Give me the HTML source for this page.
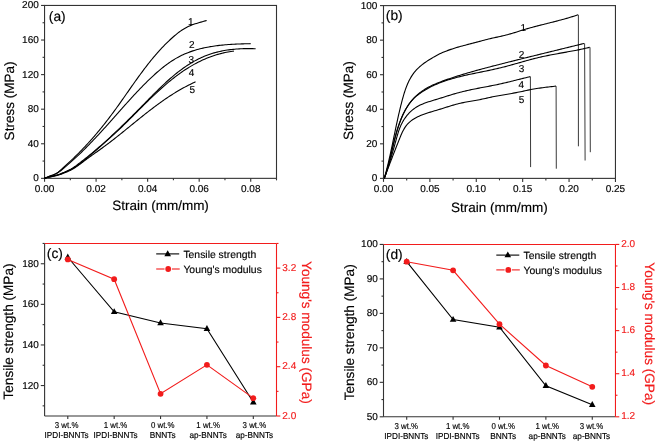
<!DOCTYPE html>
<html><head><meta charset="utf-8"><title>Mechanical properties</title>
<style>
html,body{margin:0;padding:0;background:#fff;}
body{width:656px;height:442px;overflow:hidden;}
svg{display:block;font-family:"Liberation Sans", sans-serif;will-change:transform;}
text{font-family:"Liberation Sans", sans-serif;text-rendering:geometricPrecision;}
</style></head>
<body>
<svg width="656" height="442" viewBox="0 0 656 442">
<rect width="656" height="442" fill="#fff"/>
<rect x="44.55" y="5.45" width="231.95" height="172.9" fill="none" stroke="#333" stroke-width="1.1"/>
<line x1="44.55" y1="178.35" x2="44.55" y2="181.85" stroke="#333" stroke-width="1.1"/>
<text x="44.55" y="191.8" font-size="10" text-anchor="middle" fill="#000" stroke="#000" stroke-width="0.15">0.00</text>
<line x1="96.09" y1="178.35" x2="96.09" y2="181.85" stroke="#333" stroke-width="1.1"/>
<text x="96.09" y="191.8" font-size="10" text-anchor="middle" fill="#000" stroke="#000" stroke-width="0.15">0.02</text>
<line x1="147.64" y1="178.35" x2="147.64" y2="181.85" stroke="#333" stroke-width="1.1"/>
<text x="147.64" y="191.8" font-size="10" text-anchor="middle" fill="#000" stroke="#000" stroke-width="0.15">0.04</text>
<line x1="199.18" y1="178.35" x2="199.18" y2="181.85" stroke="#333" stroke-width="1.1"/>
<text x="199.18" y="191.8" font-size="10" text-anchor="middle" fill="#000" stroke="#000" stroke-width="0.15">0.06</text>
<line x1="250.73" y1="178.35" x2="250.73" y2="181.85" stroke="#333" stroke-width="1.1"/>
<text x="250.73" y="191.8" font-size="10" text-anchor="middle" fill="#000" stroke="#000" stroke-width="0.15">0.08</text>
<line x1="70.32" y1="178.35" x2="70.32" y2="180.35" stroke="#333" stroke-width="1.1"/>
<line x1="121.87" y1="178.35" x2="121.87" y2="180.35" stroke="#333" stroke-width="1.1"/>
<line x1="173.41" y1="178.35" x2="173.41" y2="180.35" stroke="#333" stroke-width="1.1"/>
<line x1="224.96" y1="178.35" x2="224.96" y2="180.35" stroke="#333" stroke-width="1.1"/>
<line x1="276.5" y1="178.35" x2="276.5" y2="180.35" stroke="#333" stroke-width="1.1"/>
<line x1="44.55" y1="178.35" x2="41.05" y2="178.35" stroke="#333" stroke-width="1.1"/>
<text x="38.8" y="181.35" font-size="10" text-anchor="end" fill="#000" stroke="#000" stroke-width="0.15">0</text>
<line x1="44.55" y1="143.77" x2="41.05" y2="143.77" stroke="#333" stroke-width="1.1"/>
<text x="38.8" y="146.77" font-size="10" text-anchor="end" fill="#000" stroke="#000" stroke-width="0.15">40</text>
<line x1="44.55" y1="109.19" x2="41.05" y2="109.19" stroke="#333" stroke-width="1.1"/>
<text x="38.8" y="112.19" font-size="10" text-anchor="end" fill="#000" stroke="#000" stroke-width="0.15">80</text>
<line x1="44.55" y1="74.61" x2="41.05" y2="74.61" stroke="#333" stroke-width="1.1"/>
<text x="38.8" y="77.61" font-size="10" text-anchor="end" fill="#000" stroke="#000" stroke-width="0.15">120</text>
<line x1="44.55" y1="40.03" x2="41.05" y2="40.03" stroke="#333" stroke-width="1.1"/>
<text x="38.8" y="43.03" font-size="10" text-anchor="end" fill="#000" stroke="#000" stroke-width="0.15">160</text>
<line x1="44.55" y1="5.45" x2="41.05" y2="5.45" stroke="#333" stroke-width="1.1"/>
<text x="38.8" y="8.45" font-size="10" text-anchor="end" fill="#000" stroke="#000" stroke-width="0.15">200</text>
<line x1="44.55" y1="161.06" x2="42.55" y2="161.06" stroke="#333" stroke-width="1.1"/>
<line x1="44.55" y1="126.48" x2="42.55" y2="126.48" stroke="#333" stroke-width="1.1"/>
<line x1="44.55" y1="91.9" x2="42.55" y2="91.9" stroke="#333" stroke-width="1.1"/>
<line x1="44.55" y1="57.32" x2="42.55" y2="57.32" stroke="#333" stroke-width="1.1"/>
<line x1="44.55" y1="22.74" x2="42.55" y2="22.74" stroke="#333" stroke-width="1.1"/>
<text x="48.8" y="20.8" font-size="13.8" text-anchor="start" fill="#000" stroke="#000" stroke-width="0.15">(a)</text>
<text x="0" y="0" font-size="13.5" text-anchor="middle" fill="#000" stroke="#000" stroke-width="0.15" transform="translate(14.2,101) rotate(-90)">Stress (MPa)</text>
<text x="160.5" y="209.5" font-size="13.5" text-anchor="middle" fill="#000" stroke="#000" stroke-width="0.15">Strain (mm/mm)</text>
<path d="M44.50,178.29 L45.88,177.72 L47.28,177.18 L48.68,176.65 L50.09,176.12 L51.48,175.58 L52.87,175.00 L54.23,174.38 L55.57,173.70 L56.86,172.95 L58.11,172.12 L59.31,171.21 L60.46,170.26 L61.59,169.27 L62.69,168.26 L63.79,167.24 L64.89,166.21 L65.99,165.20 L67.09,164.18 L68.19,163.17 L69.29,162.15 L70.39,161.13 L71.49,160.11 L72.58,159.08 L73.66,158.04 L74.74,157.00 L75.81,155.96 L76.88,154.91 L77.95,153.85 L79.00,152.79 L80.06,151.72 L81.10,150.65 L82.14,149.57 L83.18,148.49 L84.21,147.40 L85.24,146.31 L86.26,145.21 L87.28,144.11 L88.29,143.00 L89.29,141.89 L90.29,140.77 L91.29,139.65 L92.28,138.53 L93.27,137.40 L94.25,136.27 L95.23,135.13 L96.20,133.99 L97.17,132.85 L98.13,131.70 L99.09,130.54 L100.04,129.39 L100.99,128.23 L101.93,127.06 L102.87,125.89 L103.81,124.72 L104.74,123.55 L105.67,122.37 L106.59,121.19 L107.51,120.00 L108.42,118.82 L109.33,117.63 L110.24,116.43 L111.14,115.23 L112.04,114.03 L112.93,112.83 L113.82,111.62 L114.71,110.42 L115.59,109.20 L116.47,107.99 L117.34,106.77 L118.22,105.56 L119.09,104.34 L119.96,103.11 L120.82,101.89 L121.69,100.67 L122.55,99.44 L123.41,98.21 L124.27,96.99 L125.13,95.76 L125.99,94.53 L126.85,93.30 L127.71,92.07 L128.57,90.85 L129.43,89.62 L130.29,88.39 L131.15,87.16 L132.01,85.94 L132.87,84.71 L133.74,83.49 L134.60,82.26 L135.47,81.04 L136.34,79.82 L137.22,78.60 L138.09,77.39 L138.97,76.17 L139.86,74.96 L140.74,73.75 L141.63,72.55 L142.53,71.34 L143.43,70.14 L144.33,68.95 L145.24,67.76 L146.15,66.57 L147.07,65.38 L147.99,64.20 L148.92,63.02 L149.85,61.85 L150.79,60.68 L151.74,59.52 L152.69,58.37 L153.65,57.22 L154.62,56.07 L155.60,54.93 L156.58,53.80 L157.57,52.67 L158.56,51.55 L159.57,50.44 L160.58,49.33 L161.60,48.24 L162.63,47.15 L163.67,46.06 L164.71,44.99 L165.77,43.93 L166.83,42.87 L167.90,41.82 L168.98,40.79 L170.08,39.76 L171.18,38.74 L172.29,37.73 L173.41,36.74 L174.55,35.76 L175.70,34.80 L176.86,33.86 L178.04,32.94 L179.24,32.04 L180.46,31.17 L181.70,30.32 L182.96,29.50 L184.23,28.72 L185.53,27.97 L186.85,27.26 L188.19,26.59 L189.55,25.96 L190.93,25.38 L192.33,24.83 L193.74,24.33 L195.16,23.85 L196.59,23.40 L198.03,22.97 L199.47,22.55 L200.91,22.13 L202.35,21.72 L203.78,21.29 L205.22,20.86 L206.65,20.40" fill="none" stroke="#000" stroke-width="1.1" stroke-linejoin="round"/>
<path d="M44.50,178.31 L45.88,177.70 L47.27,177.14 L48.67,176.61 L50.07,176.09 L51.48,175.57 L52.88,175.05 L54.28,174.49 L55.65,173.89 L56.98,173.21 L58.27,172.44 L59.51,171.60 L60.72,170.71 L61.89,169.78 L63.04,168.82 L64.19,167.85 L65.33,166.88 L66.46,165.90 L67.60,164.92 L68.73,163.94 L69.86,162.95 L70.98,161.96 L72.10,160.96 L73.21,159.96 L74.32,158.95 L75.43,157.93 L76.52,156.91 L77.62,155.89 L78.71,154.86 L79.79,153.82 L80.87,152.78 L81.94,151.74 L83.02,150.69 L84.08,149.63 L85.14,148.58 L86.20,147.51 L87.26,146.45 L88.31,145.38 L89.35,144.31 L90.40,143.23 L91.44,142.15 L92.47,141.07 L93.51,139.98 L94.54,138.89 L95.56,137.80 L96.59,136.71 L97.61,135.61 L98.63,134.51 L99.65,133.41 L100.66,132.31 L101.67,131.20 L102.68,130.09 L103.69,128.98 L104.70,127.87 L105.70,126.76 L106.71,125.65 L107.71,124.53 L108.71,123.41 L109.71,122.30 L110.70,121.18 L111.70,120.06 L112.70,118.94 L113.69,117.82 L114.69,116.70 L115.68,115.58 L116.68,114.45 L117.67,113.33 L118.67,112.21 L119.66,111.09 L120.65,109.97 L121.65,108.85 L122.65,107.73 L123.64,106.61 L124.64,105.49 L125.64,104.37 L126.64,103.25 L127.64,102.14 L128.65,101.03 L129.65,99.92 L130.66,98.81 L131.67,97.70 L132.69,96.60 L133.70,95.49 L134.72,94.39 L135.74,93.30 L136.77,92.21 L137.80,91.12 L138.83,90.03 L139.87,88.95 L140.91,87.87 L141.95,86.79 L143.00,85.72 L144.06,84.66 L145.11,83.59 L146.18,82.54 L147.24,81.48 L148.32,80.44 L149.40,79.40 L150.48,78.36 L151.57,77.33 L152.66,76.30 L153.76,75.29 L154.87,74.28 L155.99,73.28 L157.11,72.28 L158.24,71.30 L159.38,70.33 L160.53,69.36 L161.69,68.41 L162.85,67.47 L164.03,66.54 L165.22,65.63 L166.42,64.73 L167.63,63.84 L168.85,62.97 L170.08,62.12 L171.32,61.28 L172.58,60.47 L173.85,59.67 L175.13,58.89 L176.43,58.13 L177.73,57.40 L179.05,56.69 L180.38,56.00 L181.73,55.34 L183.08,54.70 L184.45,54.09 L185.83,53.50 L187.22,52.93 L188.61,52.39 L190.02,51.87 L191.43,51.37 L192.85,50.89 L194.28,50.43 L195.72,50.00 L197.16,49.58 L198.60,49.19 L200.05,48.81 L201.51,48.45 L202.97,48.11 L204.43,47.79 L205.90,47.48 L207.37,47.19 L208.85,46.92 L210.32,46.66 L211.80,46.42 L213.28,46.19 L214.77,45.97 L216.25,45.77 L217.74,45.58 L219.23,45.40 L220.72,45.24 L222.21,45.08 L223.70,44.94 L225.19,44.81 L226.69,44.68 L228.18,44.57 L229.68,44.46 L231.17,44.37 L232.67,44.28 L234.16,44.20 L235.66,44.12 L237.16,44.05 L238.66,43.99 L240.16,43.94 L241.65,43.89 L243.15,43.84 L244.65,43.80 L246.15,43.76 L247.65,43.73 L249.15,43.70 L250.64,43.67" fill="none" stroke="#000" stroke-width="1.1" stroke-linejoin="round"/>
<path d="M44.50,178.30 L45.91,177.80 L47.34,177.37 L48.79,176.99 L50.24,176.64 L51.70,176.31 L53.16,175.99 L54.62,175.65 L56.07,175.29 L57.51,174.88 L58.93,174.41 L60.34,173.90 L61.73,173.34 L63.10,172.76 L64.48,172.16 L65.85,171.56 L67.21,170.94 L68.56,170.29 L69.89,169.61 L71.20,168.89 L72.48,168.11 L73.73,167.30 L74.96,166.45 L76.18,165.58 L77.38,164.68 L78.58,163.78 L79.77,162.88 L80.95,161.97 L82.14,161.05 L83.32,160.13 L84.49,159.21 L85.66,158.28 L86.83,157.34 L88.00,156.40 L89.16,155.46 L90.32,154.51 L91.47,153.56 L92.62,152.60 L93.77,151.64 L94.91,150.68 L96.05,149.71 L97.19,148.74 L98.32,147.76 L99.45,146.78 L100.58,145.80 L101.70,144.81 L102.83,143.82 L103.94,142.83 L105.06,141.83 L106.17,140.83 L107.28,139.82 L108.39,138.82 L109.49,137.81 L110.59,136.79 L111.69,135.78 L112.78,134.76 L113.88,133.73 L114.97,132.71 L116.05,131.68 L117.14,130.65 L118.22,129.62 L119.30,128.59 L120.38,127.55 L121.46,126.51 L122.53,125.47 L123.61,124.43 L124.68,123.38 L125.75,122.34 L126.81,121.29 L127.88,120.24 L128.94,119.19 L130.01,118.13 L131.07,117.08 L132.13,116.02 L133.18,114.96 L134.24,113.90 L135.30,112.84 L136.35,111.78 L137.40,110.72 L138.46,109.66 L139.51,108.59 L140.56,107.53 L141.61,106.46 L142.66,105.40 L143.71,104.33 L144.75,103.26 L145.80,102.19 L146.85,101.12 L147.90,100.06 L148.95,98.99 L150.00,97.92 L151.05,96.86 L152.10,95.80 L153.15,94.73 L154.21,93.68 L155.27,92.62 L156.33,91.57 L157.40,90.52 L158.47,89.47 L159.54,88.42 L160.62,87.39 L161.70,86.35 L162.78,85.32 L163.87,84.30 L164.97,83.28 L166.07,82.26 L167.17,81.26 L168.29,80.26 L169.41,79.27 L170.53,78.28 L171.66,77.30 L172.80,76.33 L173.95,75.37 L175.11,74.42 L176.27,73.48 L177.44,72.55 L178.62,71.63 L179.81,70.72 L181.01,69.82 L182.21,68.94 L183.43,68.07 L184.65,67.21 L185.89,66.36 L187.13,65.53 L188.39,64.72 L189.65,63.92 L190.93,63.14 L192.21,62.37 L193.51,61.62 L194.81,60.89 L196.13,60.18 L197.46,59.49 L198.79,58.81 L200.14,58.16 L201.49,57.53 L202.86,56.92 L204.24,56.33 L205.62,55.77 L207.02,55.23 L208.42,54.71 L209.83,54.22 L211.26,53.75 L212.68,53.31 L214.12,52.89 L215.56,52.49 L217.01,52.12 L218.47,51.76 L219.92,51.43 L221.39,51.12 L222.86,50.83 L224.33,50.56 L225.80,50.31 L227.28,50.08 L228.76,49.86 L230.24,49.67 L231.73,49.49 L233.22,49.33 L234.71,49.18 L236.20,49.06 L237.69,48.94 L239.18,48.85 L240.67,48.77 L242.17,48.70 L243.66,48.65 L245.16,48.61 L246.66,48.59 L248.15,48.58 L249.65,48.59 L251.14,48.61 L252.64,48.64 L254.14,48.69 L255.63,48.75" fill="none" stroke="#000" stroke-width="1.1" stroke-linejoin="round"/>
<path d="M44.50,178.31 L45.92,177.84 L47.35,177.43 L48.80,177.07 L50.25,176.74 L51.71,176.43 L53.17,176.13 L54.62,175.81 L56.07,175.46 L57.51,175.07 L58.93,174.63 L60.34,174.13 L61.73,173.60 L63.11,173.03 L64.49,172.45 L65.85,171.86 L67.21,171.25 L68.56,170.62 L69.90,169.96 L71.22,169.27 L72.53,168.55 L73.81,167.79 L75.08,167.01 L76.33,166.20 L77.57,165.36 L78.78,164.51 L79.99,163.63 L81.18,162.73 L82.36,161.82 L83.53,160.89 L84.68,159.95 L85.83,159.01 L86.98,158.05 L88.11,157.08 L89.25,156.12 L90.38,155.14 L91.51,154.17 L92.64,153.20 L93.77,152.22 L94.89,151.25 L96.02,150.27 L97.15,149.30 L98.27,148.32 L99.40,147.34 L100.52,146.36 L101.64,145.38 L102.77,144.40 L103.88,143.42 L105.00,142.43 L106.12,141.44 L107.23,140.45 L108.34,139.45 L109.45,138.46 L110.56,137.46 L111.66,136.46 L112.76,135.45 L113.86,134.44 L114.95,133.43 L116.04,132.41 L117.13,131.39 L118.21,130.37 L119.29,129.34 L120.37,128.31 L121.44,127.28 L122.51,126.24 L123.58,125.20 L124.65,124.16 L125.71,123.11 L126.77,122.07 L127.83,121.02 L128.89,119.97 L129.95,118.92 L131.00,117.86 L132.05,116.81 L133.11,115.75 L134.16,114.70 L135.21,113.64 L136.27,112.59 L137.32,111.53 L138.37,110.47 L139.42,109.42 L140.48,108.37 L141.53,107.31 L142.59,106.26 L143.64,105.21 L144.70,104.16 L145.76,103.11 L146.83,102.07 L147.89,101.02 L148.96,99.98 L150.03,98.95 L151.10,97.91 L152.18,96.88 L153.26,95.85 L154.34,94.82 L155.43,93.80 L156.52,92.79 L157.61,91.77 L158.71,90.77 L159.81,89.76 L160.92,88.76 L162.03,87.77 L163.15,86.79 L164.27,85.80 L165.40,84.83 L166.53,83.86 L167.67,82.90 L168.81,81.95 L169.97,81.00 L171.12,80.06 L172.29,79.13 L173.46,78.21 L174.64,77.29 L175.82,76.39 L177.01,75.49 L178.21,74.60 L179.42,73.73 L180.63,72.86 L181.85,72.01 L183.08,71.16 L184.32,70.33 L185.56,69.51 L186.81,68.70 L188.08,67.91 L189.34,67.13 L190.62,66.36 L191.91,65.60 L193.20,64.86 L194.50,64.14 L195.81,63.43 L197.13,62.73 L198.46,62.05 L199.79,61.39 L201.14,60.74 L202.49,60.11 L203.85,59.50 L205.21,58.90 L206.59,58.32 L207.97,57.76 L209.36,57.22 L210.75,56.70 L212.16,56.20 L213.57,55.72 L214.98,55.25 L216.41,54.81 L217.84,54.39 L219.27,53.98 L220.71,53.60 L222.16,53.24 L223.61,52.90 L225.06,52.58 L226.52,52.28 L227.99,52.00 L229.46,51.74 L230.93,51.50 L232.40,51.29 L233.88,51.09" fill="none" stroke="#000" stroke-width="1.1" stroke-linejoin="round"/>
<path d="M44.50,178.30 L45.94,177.89 L47.39,177.53 L48.84,177.20 L50.31,176.89 L51.77,176.59 L53.23,176.29 L54.69,175.98 L56.15,175.63 L57.59,175.26 L59.02,174.83 L60.44,174.37 L61.85,173.87 L63.25,173.35 L64.65,172.81 L66.03,172.26 L67.41,171.68 L68.77,171.07 L70.12,170.43 L71.45,169.74 L72.76,169.02 L74.04,168.25 L75.30,167.45 L76.54,166.62 L77.77,165.76 L78.98,164.89 L80.18,164.00 L81.38,163.11 L82.57,162.21 L83.76,161.31 L84.96,160.41 L86.16,159.52 L87.36,158.64 L88.57,157.76 L89.78,156.89 L91.00,156.02 L92.21,155.15 L93.43,154.28 L94.64,153.41 L95.86,152.55 L97.08,151.68 L98.29,150.81 L99.51,149.94 L100.72,149.07 L101.93,148.19 L103.14,147.31 L104.35,146.43 L105.55,145.54 L106.74,144.65 L107.94,143.75 L109.13,142.85 L110.31,141.94 L111.50,141.03 L112.68,140.12 L113.86,139.20 L115.04,138.28 L116.21,137.35 L117.38,136.43 L118.55,135.50 L119.72,134.57 L120.89,133.63 L122.05,132.70 L123.21,131.76 L124.38,130.82 L125.54,129.88 L126.70,128.94 L127.86,128.00 L129.02,127.06 L130.18,126.12 L131.34,125.17 L132.50,124.23 L133.66,123.29 L134.82,122.35 L135.98,121.41 L137.14,120.47 L138.30,119.53 L139.47,118.59 L140.63,117.66 L141.80,116.73 L142.97,115.80 L144.14,114.87 L145.31,113.94 L146.48,113.02 L147.66,112.10 L148.84,111.18 L150.02,110.27 L151.21,109.36 L152.39,108.45 L153.59,107.55 L154.78,106.65 L155.98,105.76 L157.18,104.87 L158.39,103.99 L159.60,103.12 L160.81,102.24 L162.03,101.38 L163.25,100.52 L164.48,99.67 L165.71,98.82 L166.94,97.98 L168.19,97.15 L169.43,96.33 L170.68,95.51 L171.94,94.70 L173.20,93.90 L174.47,93.11 L175.74,92.33 L177.02,91.56 L178.30,90.80 L179.59,90.04 L180.89,89.30 L182.19,88.56 L183.50,87.84 L184.81,87.13 L186.13,86.43 L187.46,85.74 L188.79,85.06 L190.13,84.39 L191.47,83.74 L192.82,83.10 L194.17,82.47 L195.53,81.85" fill="none" stroke="#000" stroke-width="1.1" stroke-linejoin="round"/>
<text x="190.8" y="24.6" font-size="10" text-anchor="middle" fill="#000" stroke="#000" stroke-width="0.15">1</text>
<text x="191.7" y="47.6" font-size="10" text-anchor="middle" fill="#000" stroke="#000" stroke-width="0.15">2</text>
<text x="191.3" y="62.6" font-size="10" text-anchor="middle" fill="#000" stroke="#000" stroke-width="0.15">3</text>
<text x="191.5" y="75.9" font-size="10" text-anchor="middle" fill="#000" stroke="#000" stroke-width="0.15">4</text>
<text x="192.2" y="93.4" font-size="10" text-anchor="middle" fill="#000" stroke="#000" stroke-width="0.15">5</text>
<rect x="383.5" y="5.6" width="231.95" height="172.78" fill="none" stroke="#333" stroke-width="1.1"/>
<line x1="383.5" y1="178.38" x2="383.5" y2="181.88" stroke="#333" stroke-width="1.1"/>
<text x="383.5" y="191.8" font-size="10" text-anchor="middle" fill="#000" stroke="#000" stroke-width="0.15">0.00</text>
<line x1="429.89" y1="178.38" x2="429.89" y2="181.88" stroke="#333" stroke-width="1.1"/>
<text x="429.89" y="191.8" font-size="10" text-anchor="middle" fill="#000" stroke="#000" stroke-width="0.15">0.05</text>
<line x1="476.28" y1="178.38" x2="476.28" y2="181.88" stroke="#333" stroke-width="1.1"/>
<text x="476.28" y="191.8" font-size="10" text-anchor="middle" fill="#000" stroke="#000" stroke-width="0.15">0.10</text>
<line x1="522.67" y1="178.38" x2="522.67" y2="181.88" stroke="#333" stroke-width="1.1"/>
<text x="522.67" y="191.8" font-size="10" text-anchor="middle" fill="#000" stroke="#000" stroke-width="0.15">0.15</text>
<line x1="569.06" y1="178.38" x2="569.06" y2="181.88" stroke="#333" stroke-width="1.1"/>
<text x="569.06" y="191.8" font-size="10" text-anchor="middle" fill="#000" stroke="#000" stroke-width="0.15">0.20</text>
<line x1="615.45" y1="178.38" x2="615.45" y2="181.88" stroke="#333" stroke-width="1.1"/>
<text x="615.45" y="191.8" font-size="10" text-anchor="middle" fill="#000" stroke="#000" stroke-width="0.15">0.25</text>
<line x1="406.69" y1="178.38" x2="406.69" y2="180.38" stroke="#333" stroke-width="1.1"/>
<line x1="453.09" y1="178.38" x2="453.09" y2="180.38" stroke="#333" stroke-width="1.1"/>
<line x1="499.48" y1="178.38" x2="499.48" y2="180.38" stroke="#333" stroke-width="1.1"/>
<line x1="545.87" y1="178.38" x2="545.87" y2="180.38" stroke="#333" stroke-width="1.1"/>
<line x1="592.26" y1="178.38" x2="592.26" y2="180.38" stroke="#333" stroke-width="1.1"/>
<line x1="383.5" y1="178.38" x2="380" y2="178.38" stroke="#333" stroke-width="1.1"/>
<text x="377.4" y="181.38" font-size="10" text-anchor="end" fill="#000" stroke="#000" stroke-width="0.15">0</text>
<line x1="383.5" y1="143.82" x2="380" y2="143.82" stroke="#333" stroke-width="1.1"/>
<text x="377.4" y="146.82" font-size="10" text-anchor="end" fill="#000" stroke="#000" stroke-width="0.15">20</text>
<line x1="383.5" y1="109.27" x2="380" y2="109.27" stroke="#333" stroke-width="1.1"/>
<text x="377.4" y="112.27" font-size="10" text-anchor="end" fill="#000" stroke="#000" stroke-width="0.15">40</text>
<line x1="383.5" y1="74.71" x2="380" y2="74.71" stroke="#333" stroke-width="1.1"/>
<text x="377.4" y="77.71" font-size="10" text-anchor="end" fill="#000" stroke="#000" stroke-width="0.15">60</text>
<line x1="383.5" y1="40.16" x2="380" y2="40.16" stroke="#333" stroke-width="1.1"/>
<text x="377.4" y="43.16" font-size="10" text-anchor="end" fill="#000" stroke="#000" stroke-width="0.15">80</text>
<line x1="383.5" y1="5.6" x2="380" y2="5.6" stroke="#333" stroke-width="1.1"/>
<text x="377.4" y="8.6" font-size="10" text-anchor="end" fill="#000" stroke="#000" stroke-width="0.15">100</text>
<line x1="383.5" y1="161.1" x2="381.5" y2="161.1" stroke="#333" stroke-width="1.1"/>
<line x1="383.5" y1="126.55" x2="381.5" y2="126.55" stroke="#333" stroke-width="1.1"/>
<line x1="383.5" y1="91.99" x2="381.5" y2="91.99" stroke="#333" stroke-width="1.1"/>
<line x1="383.5" y1="57.43" x2="381.5" y2="57.43" stroke="#333" stroke-width="1.1"/>
<line x1="383.5" y1="22.88" x2="381.5" y2="22.88" stroke="#333" stroke-width="1.1"/>
<text x="385.8" y="20.4" font-size="13.8" text-anchor="start" fill="#000" stroke="#000" stroke-width="0.15">(b)</text>
<text x="0" y="0" font-size="13.5" text-anchor="middle" fill="#000" stroke="#000" stroke-width="0.15" transform="translate(352.6,100.7) rotate(-90)">Stress (MPa)</text>
<text x="499.4" y="211.8" font-size="13.5" text-anchor="middle" fill="#000" stroke="#000" stroke-width="0.15">Strain (mm/mm)</text>
<path d="M384.29,178.31 L384.70,176.87 L385.10,175.42 L385.49,173.98 L385.88,172.53 L386.26,171.08 L386.63,169.63 L387.00,168.17 L387.36,166.72 L387.72,165.26 L388.07,163.81 L388.42,162.35 L388.76,160.89 L389.10,159.43 L389.43,157.97 L389.76,156.50 L390.09,155.04 L390.41,153.58 L390.73,152.11 L391.05,150.65 L391.36,149.18 L391.67,147.71 L391.98,146.25 L392.29,144.78 L392.59,143.31 L392.90,141.85 L393.20,140.38 L393.51,138.91 L393.81,137.44 L394.11,135.97 L394.41,134.51 L394.72,133.04 L395.02,131.57 L395.33,130.10 L395.63,128.63 L395.94,127.17 L396.25,125.70 L396.56,124.23 L396.87,122.77 L397.19,121.30 L397.51,119.84 L397.83,118.37 L398.16,116.91 L398.48,115.45 L398.82,113.99 L399.15,112.53 L399.50,111.07 L399.84,109.61 L400.19,108.15 L400.55,106.69 L400.91,105.24 L401.28,103.79 L401.65,102.33 L402.03,100.88 L402.41,99.43 L402.81,97.99 L403.21,96.55 L403.63,95.11 L404.06,93.67 L404.50,92.24 L404.97,90.81 L405.45,89.39 L405.96,87.98 L406.49,86.58 L407.04,85.19 L407.63,83.81 L408.24,82.44 L408.89,81.09 L409.57,79.75 L410.28,78.43 L411.03,77.14 L411.82,75.86 L412.65,74.61 L413.52,73.39 L414.44,72.21 L415.39,71.05 L416.39,69.93 L417.42,68.85 L418.50,67.80 L419.60,66.79 L420.73,65.81 L421.90,64.86 L423.08,63.94 L424.29,63.05 L425.52,62.19 L426.76,61.35 L428.01,60.53 L429.28,59.73 L430.55,58.94 L431.83,58.16 L433.12,57.40 L434.42,56.65 L435.73,55.92 L437.05,55.21 L438.39,54.53 L439.73,53.86 L441.09,53.23 L442.46,52.61 L443.83,52.02 L445.22,51.45 L446.62,50.91 L448.02,50.38 L449.43,49.87 L450.85,49.38 L452.27,48.90 L453.69,48.44 L455.12,48.00 L456.56,47.56 L458.00,47.14 L459.44,46.73 L460.88,46.33 L462.33,45.93 L463.78,45.54 L465.23,45.16 L466.68,44.78 L468.13,44.40 L469.58,44.03 L471.03,43.65 L472.48,43.27 L473.93,42.90 L475.38,42.52 L476.83,42.13 L478.28,41.74 L479.72,41.35 L481.17,40.96 L482.62,40.57 L484.07,40.18 L485.52,39.80 L486.97,39.43 L488.42,39.07 L489.88,38.71 L491.34,38.37 L492.80,38.04 L494.27,37.72 L495.73,37.40 L497.20,37.09 L498.66,36.77 L500.13,36.45 L501.59,36.13 L503.05,35.79 L504.51,35.45 L505.96,35.09 L507.42,34.71 L508.86,34.31 L510.30,33.90 L511.74,33.48 L513.17,33.04 L514.61,32.60 L516.04,32.15 L517.47,31.70 L518.89,31.24 L520.32,30.79 L521.75,30.34 L523.19,29.90 L524.62,29.47 L526.06,29.05 L527.50,28.63 L528.94,28.22 L530.39,27.82 L531.83,27.42 L533.28,27.03 L534.73,26.65 L536.18,26.27 L537.63,25.89 L539.08,25.51 L540.53,25.14 L541.99,24.78 L543.44,24.41 L544.89,24.04 L546.35,23.68 L547.80,23.32 L549.26,22.95 L550.71,22.59 L552.16,22.22 L553.62,21.85 L555.07,21.48 L556.52,21.10 L557.97,20.73 L559.42,20.34 L560.87,19.96 L562.31,19.56 L563.76,19.17 L565.20,18.76 L566.65,18.35 L568.08,17.93 L569.52,17.51 L570.96,17.07 L572.39,16.63 L573.82,16.17 L575.24,15.71 L576.66,15.24 L578.08,14.75" fill="none" stroke="#000" stroke-width="1.1" stroke-linejoin="round"/>
<line x1="578.4" y1="14.8" x2="578.4" y2="146.3" stroke="#3a3a3a" stroke-width="1.0"/>
<path d="M384.26,178.23 L384.77,176.82 L385.27,175.41 L385.75,173.99 L386.21,172.56 L386.65,171.13 L387.09,169.70 L387.50,168.26 L387.91,166.82 L388.31,165.38 L388.69,163.93 L389.07,162.48 L389.43,161.03 L389.79,159.57 L390.15,158.12 L390.50,156.66 L390.84,155.20 L391.18,153.75 L391.52,152.29 L391.86,150.83 L392.19,149.37 L392.53,147.91 L392.87,146.45 L393.21,144.99 L393.56,143.54 L393.91,142.08 L394.27,140.63 L394.63,139.17 L395.00,137.72 L395.38,136.28 L395.77,134.83 L396.17,133.39 L396.58,131.95 L397.00,130.51 L397.44,129.08 L397.89,127.65 L398.36,126.23 L398.84,124.81 L399.34,123.40 L399.86,121.99 L400.40,120.60 L400.95,119.21 L401.53,117.82 L402.13,116.45 L402.75,115.09 L403.40,113.74 L404.06,112.40 L404.76,111.07 L405.48,109.76 L406.22,108.46 L407.00,107.18 L407.80,105.91 L408.63,104.67 L409.49,103.44 L410.39,102.24 L411.31,101.06 L412.27,99.91 L413.26,98.79 L414.29,97.70 L415.34,96.64 L416.43,95.61 L417.55,94.61 L418.70,93.65 L419.87,92.72 L421.07,91.83 L422.29,90.96 L423.54,90.13 L424.81,89.33 L426.09,88.56 L427.39,87.82 L428.71,87.10 L430.04,86.41 L431.38,85.75 L432.73,85.11 L434.09,84.49 L435.47,83.89 L436.85,83.31 L438.23,82.74 L439.63,82.19 L441.02,81.66 L442.43,81.13 L443.83,80.62 L445.24,80.12 L446.66,79.62 L448.07,79.14 L449.49,78.66 L450.91,78.18 L452.33,77.71 L453.76,77.24 L455.18,76.78 L456.61,76.33 L458.04,75.88 L459.47,75.43 L460.90,74.99 L462.33,74.55 L463.76,74.12 L465.20,73.69 L466.63,73.26 L468.07,72.84 L469.51,72.43 L470.95,72.01 L472.39,71.60 L473.83,71.20 L475.27,70.79 L476.71,70.39 L478.16,69.99 L479.60,69.60 L481.05,69.21 L482.49,68.82 L483.94,68.43 L485.39,68.05 L486.84,67.67 L488.28,67.29 L489.73,66.91 L491.18,66.53 L492.63,66.15 L494.08,65.78 L495.53,65.41 L496.98,65.04 L498.43,64.67 L499.88,64.30 L501.34,63.93 L502.79,63.56 L504.24,63.19 L505.69,62.82 L507.14,62.46 L508.59,62.09 L510.05,61.72 L511.50,61.36 L512.95,60.99 L514.40,60.63 L515.86,60.26 L517.31,59.90 L518.76,59.54 L520.21,59.18 L521.67,58.81 L523.12,58.45 L524.57,58.09 L526.03,57.73 L527.48,57.37 L528.93,57.01 L530.39,56.65 L531.84,56.29 L533.29,55.93 L534.75,55.57 L536.20,55.21 L537.66,54.85 L539.11,54.49 L540.56,54.14 L542.02,53.78 L543.47,53.42 L544.93,53.06 L546.38,52.70 L547.83,52.35 L549.29,51.99 L550.74,51.63 L552.20,51.28 L553.65,50.92 L555.11,50.56 L556.56,50.21 L558.02,49.85 L559.47,49.49 L560.92,49.14 L562.38,48.78 L563.83,48.42 L565.29,48.07 L566.74,47.71 L568.20,47.35 L569.65,46.99 L571.10,46.64 L572.56,46.28 L574.01,45.92 L575.47,45.57 L576.92,45.21 L578.38,44.85 L579.83,44.49 L581.28,44.13 L582.74,43.78 L584.19,43.42" fill="none" stroke="#000" stroke-width="1.1" stroke-linejoin="round"/>
<line x1="584.6" y1="43.4" x2="585.1" y2="160.5" stroke="#3a3a3a" stroke-width="1.0"/>
<path d="M384.29,178.27 L384.77,176.85 L385.24,175.43 L385.70,174.01 L386.14,172.58 L386.57,171.15 L387.00,169.71 L387.41,168.27 L387.81,166.83 L388.20,165.39 L388.58,163.94 L388.96,162.49 L389.33,161.05 L389.69,159.59 L390.05,158.14 L390.41,156.69 L390.76,155.24 L391.11,153.78 L391.46,152.33 L391.81,150.87 L392.16,149.42 L392.51,147.96 L392.87,146.51 L393.22,145.06 L393.58,143.60 L393.94,142.15 L394.31,140.70 L394.69,139.26 L395.07,137.81 L395.46,136.36 L395.86,134.92 L396.26,133.48 L396.68,132.05 L397.11,130.61 L397.55,129.18 L398.00,127.76 L398.47,126.34 L398.95,124.92 L399.44,123.51 L399.95,122.10 L400.47,120.70 L401.02,119.30 L401.58,117.92 L402.16,116.54 L402.76,115.17 L403.39,113.81 L404.04,112.46 L404.72,111.13 L405.42,109.81 L406.16,108.51 L406.93,107.23 L407.73,105.96 L408.57,104.72 L409.44,103.51 L410.35,102.32 L411.30,101.16 L412.28,100.04 L413.31,98.95 L414.38,97.90 L415.48,96.89 L416.62,95.92 L417.78,94.98 L418.97,94.08 L420.18,93.20 L421.42,92.35 L422.66,91.52 L423.92,90.72 L425.20,89.94 L426.49,89.18 L427.79,88.45 L429.11,87.73 L430.43,87.04 L431.77,86.37 L433.12,85.72 L434.48,85.09 L435.84,84.48 L437.22,83.89 L438.60,83.32 L439.99,82.77 L441.39,82.23 L442.79,81.72 L444.20,81.21 L445.61,80.73 L447.03,80.26 L448.46,79.80 L449.89,79.36 L451.32,78.93 L452.76,78.51 L454.20,78.11 L455.64,77.72 L457.09,77.33 L458.54,76.96 L459.99,76.60 L461.44,76.24 L462.90,75.90 L464.35,75.56 L465.81,75.23 L467.27,74.90 L468.73,74.58 L470.20,74.26 L471.66,73.95 L473.12,73.65 L474.59,73.34 L476.05,73.04 L477.52,72.74 L478.99,72.44 L480.45,72.14 L481.92,71.85 L483.38,71.55 L484.85,71.25 L486.31,70.95 L487.78,70.65 L489.24,70.34 L490.71,70.03 L492.17,69.71 L493.63,69.40 L495.09,69.07 L496.55,68.74 L498.01,68.40 L499.46,68.06 L500.92,67.70 L502.37,67.34 L503.82,66.97 L505.27,66.60 L506.71,66.21 L508.16,65.82 L509.60,65.43 L511.04,65.03 L512.48,64.63 L513.92,64.23 L515.36,63.82 L516.80,63.41 L518.24,63.01 L519.68,62.60 L521.12,62.19 L522.56,61.78 L524.00,61.37 L525.44,60.97 L526.88,60.57 L528.32,60.17 L529.77,59.78 L531.21,59.40 L532.66,59.01 L534.11,58.64 L535.56,58.27 L537.01,57.91 L538.46,57.56 L539.92,57.22 L541.38,56.88 L542.84,56.56 L544.30,56.24 L545.76,55.94 L547.23,55.63 L548.70,55.34 L550.16,55.05 L551.63,54.77 L553.10,54.49 L554.57,54.21 L556.04,53.94 L557.52,53.67 L558.99,53.41 L560.46,53.14 L561.93,52.88 L563.41,52.61 L564.88,52.35 L566.35,52.09 L567.82,51.82 L569.29,51.56 L570.77,51.29 L572.24,51.01 L573.71,50.74 L575.18,50.46 L576.65,50.18 L578.11,49.89 L579.58,49.59 L581.05,49.29 L582.51,48.98 L583.97,48.66 L585.43,48.33 L586.89,48.00 L588.34,47.65 L589.80,47.29" fill="none" stroke="#000" stroke-width="1.1" stroke-linejoin="round"/>
<line x1="590" y1="47.3" x2="590.3" y2="152.2" stroke="#3a3a3a" stroke-width="1.0"/>
<path d="M384.33,178.28 L384.83,176.87 L385.33,175.45 L385.81,174.04 L386.30,172.62 L386.77,171.19 L387.25,169.77 L387.71,168.34 L388.17,166.92 L388.63,165.49 L389.08,164.06 L389.53,162.63 L389.97,161.19 L390.41,159.76 L390.84,158.32 L391.27,156.89 L391.69,155.45 L392.11,154.01 L392.53,152.57 L392.95,151.13 L393.36,149.68 L393.77,148.24 L394.18,146.80 L394.58,145.35 L394.98,143.91 L395.38,142.46 L395.78,141.02 L396.18,139.57 L396.58,138.13 L396.98,136.68 L397.39,135.24 L397.82,133.80 L398.26,132.37 L398.72,130.94 L399.22,129.53 L399.74,128.12 L400.30,126.73 L400.89,125.35 L401.54,124.00 L402.22,122.66 L402.95,121.35 L403.72,120.06 L404.53,118.80 L405.39,117.57 L406.28,116.37 L407.22,115.20 L408.20,114.07 L409.22,112.97 L410.28,111.91 L411.38,110.89 L412.52,109.91 L413.70,108.98 L414.91,108.11 L416.17,107.28 L417.45,106.51 L418.77,105.79 L420.11,105.11 L421.47,104.49 L422.85,103.90 L424.24,103.34 L425.65,102.82 L427.06,102.33 L428.49,101.85 L429.91,101.40 L431.35,100.95 L432.78,100.51 L434.22,100.08 L435.65,99.65 L437.09,99.21 L438.52,98.77 L439.96,98.33 L441.39,97.88 L442.82,97.43 L444.25,96.98 L445.68,96.53 L447.11,96.08 L448.54,95.64 L449.97,95.19 L451.41,94.76 L452.84,94.32 L454.28,93.90 L455.72,93.48 L457.17,93.07 L458.61,92.67 L460.06,92.29 L461.51,91.91 L462.97,91.55 L464.43,91.20 L465.89,90.86 L467.35,90.52 L468.81,90.20 L470.28,89.88 L471.75,89.57 L473.22,89.27 L474.69,88.98 L476.16,88.68 L477.63,88.40 L479.10,88.11 L480.57,87.83 L482.05,87.55 L483.52,87.27 L485.00,86.99 L486.47,86.71 L487.94,86.43 L489.42,86.15 L490.89,85.87 L492.36,85.58 L493.83,85.29 L495.30,84.99 L496.77,84.69 L498.24,84.38 L499.70,84.07 L501.17,83.74 L502.63,83.41 L504.09,83.07 L505.55,82.73 L507.01,82.38 L508.47,82.03 L509.92,81.67 L511.38,81.31 L512.84,80.94 L514.29,80.58 L515.74,80.21 L517.20,79.84 L518.65,79.47 L520.11,79.11 L521.56,78.74 L523.01,78.38 L524.47,78.02 L525.93,77.66 L527.38,77.30 L528.84,76.96 L530.30,76.61" fill="none" stroke="#000" stroke-width="1.1" stroke-linejoin="round"/>
<line x1="530.4" y1="76.6" x2="530.6" y2="167.1" stroke="#3a3a3a" stroke-width="1.0"/>
<path d="M384.36,178.30 L384.87,176.89 L385.38,175.49 L385.90,174.09 L386.42,172.68 L386.94,171.28 L387.46,169.88 L387.99,168.48 L388.51,167.08 L389.04,165.69 L389.57,164.29 L390.10,162.89 L390.64,161.49 L391.17,160.10 L391.71,158.70 L392.25,157.31 L392.79,155.92 L393.33,154.52 L393.87,153.13 L394.42,151.74 L394.96,150.35 L395.51,148.95 L396.06,147.56 L396.60,146.17 L397.15,144.78 L397.70,143.39 L398.25,142.00 L398.80,140.61 L399.35,139.22 L399.90,137.83 L400.46,136.45 L401.04,135.07 L401.64,133.70 L402.27,132.34 L402.93,131.00 L403.63,129.68 L404.38,128.39 L405.18,127.13 L406.05,125.91 L406.97,124.74 L407.97,123.62 L409.03,122.57 L410.15,121.58 L411.32,120.65 L412.53,119.77 L413.78,118.95 L415.07,118.19 L416.38,117.47 L417.71,116.80 L419.07,116.17 L420.44,115.57 L421.82,115.01 L423.22,114.48 L424.63,113.97 L426.04,113.48 L427.46,113.02 L428.88,112.56 L430.31,112.12 L431.74,111.69 L433.18,111.26 L434.61,110.84 L436.04,110.41 L437.47,109.98 L438.90,109.54 L440.33,109.10 L441.76,108.66 L443.18,108.21 L444.61,107.77 L446.04,107.32 L447.46,106.88 L448.89,106.43 L450.32,105.99 L451.75,105.56 L453.19,105.14 L454.62,104.73 L456.06,104.33 L457.51,103.95 L458.96,103.58 L460.41,103.24 L461.87,102.91 L463.34,102.61 L464.80,102.32 L466.27,102.05 L467.74,101.78 L469.21,101.52 L470.69,101.27 L472.16,101.02 L473.63,100.77 L475.11,100.51 L476.58,100.25 L478.05,99.97 L479.52,99.69 L480.98,99.39 L482.44,99.07 L483.90,98.75 L485.36,98.42 L486.82,98.09 L488.27,97.76 L489.73,97.44 L491.20,97.13 L492.66,96.83 L494.13,96.54 L495.60,96.26 L497.07,95.98 L498.54,95.72 L500.01,95.45 L501.48,95.20 L502.95,94.94 L504.43,94.69 L505.90,94.44 L507.37,94.18 L508.85,93.93 L510.32,93.68 L511.79,93.42 L513.26,93.15 L514.73,92.88 L516.20,92.61 L517.67,92.33 L519.14,92.03 L520.60,91.73 L522.06,91.42 L523.52,91.11 L524.98,90.79 L526.44,90.47 L527.91,90.16 L529.37,89.86 L530.84,89.57 L532.31,89.29 L533.78,89.03 L535.25,88.78 L536.73,88.54 L538.20,88.31 L539.68,88.09 L541.16,87.88 L542.64,87.68 L544.13,87.49 L545.61,87.31 L547.09,87.13 L548.58,86.95 L550.06,86.78 L551.55,86.62 L553.03,86.45 L554.52,86.29 L556.01,86.13" fill="none" stroke="#000" stroke-width="1.1" stroke-linejoin="round"/>
<line x1="556.1" y1="86.1" x2="556.3" y2="168.7" stroke="#3a3a3a" stroke-width="1.0"/>
<text x="523.2" y="31" font-size="10" text-anchor="middle" fill="#000" stroke="#000" stroke-width="0.15">1</text>
<text x="521.6" y="57.9" font-size="10" text-anchor="middle" fill="#000" stroke="#000" stroke-width="0.15">2</text>
<text x="521.6" y="71.5" font-size="10" text-anchor="middle" fill="#000" stroke="#000" stroke-width="0.15">3</text>
<text x="521.3" y="88" font-size="10" text-anchor="middle" fill="#000" stroke="#000" stroke-width="0.15">4</text>
<text x="521.5" y="102.7" font-size="10" text-anchor="middle" fill="#000" stroke="#000" stroke-width="0.15">5</text>
<line x1="44.6" y1="416" x2="276.5" y2="416" stroke="#333" stroke-width="1.1"/>
<line x1="44.6" y1="243.45" x2="44.6" y2="416" stroke="#333" stroke-width="1.1"/>
<line x1="44.6" y1="243.45" x2="276.5" y2="243.45" stroke="#f21c1c" stroke-width="1.1"/>
<line x1="276.5" y1="243.45" x2="276.5" y2="416" stroke="#f21c1c" stroke-width="1.1"/>
<line x1="44.6" y1="385.55" x2="40.8" y2="385.55" stroke="#333" stroke-width="1.1"/>
<text x="38.9" y="388.55" font-size="10" text-anchor="end" fill="#000" stroke="#000" stroke-width="0.15">120</text>
<line x1="44.6" y1="344.95" x2="40.8" y2="344.95" stroke="#333" stroke-width="1.1"/>
<text x="38.9" y="347.95" font-size="10" text-anchor="end" fill="#000" stroke="#000" stroke-width="0.15">140</text>
<line x1="44.6" y1="304.35" x2="40.8" y2="304.35" stroke="#333" stroke-width="1.1"/>
<text x="38.9" y="307.35" font-size="10" text-anchor="end" fill="#000" stroke="#000" stroke-width="0.15">160</text>
<line x1="44.6" y1="263.75" x2="40.8" y2="263.75" stroke="#333" stroke-width="1.1"/>
<text x="38.9" y="266.75" font-size="10" text-anchor="end" fill="#000" stroke="#000" stroke-width="0.15">180</text>
<line x1="44.6" y1="405.85" x2="42.6" y2="405.85" stroke="#333" stroke-width="1.1"/>
<line x1="44.6" y1="365.25" x2="42.6" y2="365.25" stroke="#333" stroke-width="1.1"/>
<line x1="44.6" y1="324.65" x2="42.6" y2="324.65" stroke="#333" stroke-width="1.1"/>
<line x1="44.6" y1="284.05" x2="42.6" y2="284.05" stroke="#333" stroke-width="1.1"/>
<line x1="44.6" y1="243.45" x2="42.6" y2="243.45" stroke="#333" stroke-width="1.1"/>
<line x1="276.5" y1="416" x2="280.3" y2="416" stroke="#f21c1c" stroke-width="1.1"/>
<text x="282.3" y="418.6" font-size="10" text-anchor="start" fill="#f21c1c" stroke="#f21c1c" stroke-width="0.15">2.0</text>
<line x1="276.5" y1="366.7" x2="280.3" y2="366.7" stroke="#f21c1c" stroke-width="1.1"/>
<text x="282.3" y="369.3" font-size="10" text-anchor="start" fill="#f21c1c" stroke="#f21c1c" stroke-width="0.15">2.4</text>
<line x1="276.5" y1="317.4" x2="280.3" y2="317.4" stroke="#f21c1c" stroke-width="1.1"/>
<text x="282.3" y="320" font-size="10" text-anchor="start" fill="#f21c1c" stroke="#f21c1c" stroke-width="0.15">2.8</text>
<line x1="276.5" y1="268.1" x2="280.3" y2="268.1" stroke="#f21c1c" stroke-width="1.1"/>
<text x="282.3" y="270.7" font-size="10" text-anchor="start" fill="#f21c1c" stroke="#f21c1c" stroke-width="0.15">3.2</text>
<line x1="276.5" y1="391.35" x2="278.5" y2="391.35" stroke="#f21c1c" stroke-width="1.1"/>
<line x1="276.5" y1="342.05" x2="278.5" y2="342.05" stroke="#f21c1c" stroke-width="1.1"/>
<line x1="276.5" y1="292.75" x2="278.5" y2="292.75" stroke="#f21c1c" stroke-width="1.1"/>
<line x1="276.5" y1="243.45" x2="278.5" y2="243.45" stroke="#f21c1c" stroke-width="1.1"/>
<line x1="67.79" y1="416" x2="67.79" y2="419" stroke="#333" stroke-width="1.1"/>
<text x="66.59" y="428.3" font-size="8.6" text-anchor="middle" fill="#000" stroke="#000" stroke-width="0.15" textLength="23.6" lengthAdjust="spacingAndGlyphs">3 wt.%</text>
<text x="66.59" y="438.2" font-size="8.6" text-anchor="middle" fill="#000" stroke="#000" stroke-width="0.15" textLength="44.0" lengthAdjust="spacingAndGlyphs">IPDI-BNNTs</text>
<line x1="114.17" y1="416" x2="114.17" y2="419" stroke="#333" stroke-width="1.1"/>
<text x="115.57" y="428.3" font-size="8.6" text-anchor="middle" fill="#000" stroke="#000" stroke-width="0.15" textLength="23.6" lengthAdjust="spacingAndGlyphs">1 wt.%</text>
<text x="115.57" y="438.2" font-size="8.6" text-anchor="middle" fill="#000" stroke="#000" stroke-width="0.15" textLength="44.0" lengthAdjust="spacingAndGlyphs">IPDI-BNNTs</text>
<line x1="160.55" y1="416" x2="160.55" y2="419" stroke="#333" stroke-width="1.1"/>
<text x="162.75" y="428.3" font-size="8.6" text-anchor="middle" fill="#000" stroke="#000" stroke-width="0.15" textLength="23.6" lengthAdjust="spacingAndGlyphs">0 wt.%</text>
<text x="162.75" y="438.2" font-size="8.6" text-anchor="middle" fill="#000" stroke="#000" stroke-width="0.15" textLength="25.9" lengthAdjust="spacingAndGlyphs">BNNTs</text>
<line x1="206.93" y1="416" x2="206.93" y2="419" stroke="#333" stroke-width="1.1"/>
<text x="208.13" y="428.3" font-size="8.6" text-anchor="middle" fill="#000" stroke="#000" stroke-width="0.15" textLength="23.6" lengthAdjust="spacingAndGlyphs">1 wt.%</text>
<text x="208.13" y="438.2" font-size="8.6" text-anchor="middle" fill="#000" stroke="#000" stroke-width="0.15" textLength="37.4" lengthAdjust="spacingAndGlyphs">ap-BNNTs</text>
<line x1="253.31" y1="416" x2="253.31" y2="419" stroke="#333" stroke-width="1.1"/>
<text x="254.41" y="428.3" font-size="8.6" text-anchor="middle" fill="#000" stroke="#000" stroke-width="0.15" textLength="23.6" lengthAdjust="spacingAndGlyphs">3 wt.%</text>
<text x="254.41" y="438.2" font-size="8.6" text-anchor="middle" fill="#000" stroke="#000" stroke-width="0.15" textLength="37.4" lengthAdjust="spacingAndGlyphs">ap-BNNTs</text>
<polyline points="67.79,257.25 114.17,311.86 160.55,323.03 206.93,328.71 253.31,402.2" fill="none" stroke="#000" stroke-width="1.1"/>
<path d="M67.79,253.6 L71.09,259.5 L64.49,259.5 Z" fill="#000"/>
<path d="M114.17,308.2 L117.47,314.1 L110.87,314.1 Z" fill="#000"/>
<path d="M160.55,319.37 L163.85,325.27 L157.25,325.27 Z" fill="#000"/>
<path d="M206.93,325.05 L210.23,330.95 L203.63,330.95 Z" fill="#000"/>
<path d="M253.31,398.54 L256.61,404.44 L250.01,404.44 Z" fill="#000"/>
<polyline points="67.79,259.47 114.17,279.19 160.55,393.81 206.93,364.85 253.31,398.13" fill="none" stroke="#f21c1c" stroke-width="1.1"/>
<circle cx="67.79" cy="259.47" r="2.9" fill="#f21c1c"/>
<circle cx="114.17" cy="279.19" r="2.9" fill="#f21c1c"/>
<circle cx="160.55" cy="393.81" r="2.9" fill="#f21c1c"/>
<circle cx="206.93" cy="364.85" r="2.9" fill="#f21c1c"/>
<circle cx="253.31" cy="398.13" r="2.9" fill="#f21c1c"/>
<text x="46.8" y="257.8" font-size="13.8" text-anchor="start" fill="#000" stroke="#000" stroke-width="0.15">(c)</text>
<line x1="156.2" y1="253.9" x2="179.2" y2="253.9" stroke="#000" stroke-width="1.1"/>
<path d="M167.7,250.24 L171,256.14 L164.4,256.14 Z" fill="#000"/>
<text x="183.4" y="257.5" font-size="10.4" text-anchor="start" fill="#000" stroke="#000" stroke-width="0.15">Tensile strength</text>
<line x1="156.2" y1="269" x2="164.5" y2="269" stroke="#f21c1c" stroke-width="1.1"/>
<line x1="171.9" y1="269" x2="179.7" y2="269" stroke="#f21c1c" stroke-width="1.1"/>
<circle cx="168.2" cy="269" r="2.9" fill="#f21c1c"/>
<text x="183.4" y="272.6" font-size="10.4" text-anchor="start" fill="#000" stroke="#000" stroke-width="0.15">Young's modulus</text>
<text x="0" y="0" font-size="13.6" text-anchor="middle" fill="#000" stroke="#000" stroke-width="0.15" transform="translate(13.3,331.5) rotate(-90)">Tensile strength (MPa)</text>
<text x="0" y="0" font-size="13.6" text-anchor="middle" fill="#f21c1c" stroke="#f21c1c" stroke-width="0.15" transform="translate(302.2,332.4) rotate(90)">Young's modulus (GPa)</text>
<line x1="383.5" y1="416.8" x2="615.47" y2="416.8" stroke="#333" stroke-width="1.1"/>
<line x1="383.5" y1="244.43" x2="383.5" y2="416.8" stroke="#333" stroke-width="1.1"/>
<line x1="383.5" y1="244.43" x2="615.47" y2="244.43" stroke="#f21c1c" stroke-width="1.1"/>
<line x1="615.47" y1="244.43" x2="615.47" y2="416.8" stroke="#f21c1c" stroke-width="1.1"/>
<line x1="383.5" y1="416.8" x2="379.7" y2="416.8" stroke="#333" stroke-width="1.1"/>
<text x="377.8" y="419.8" font-size="10" text-anchor="end" fill="#000" stroke="#000" stroke-width="0.15">50</text>
<line x1="383.5" y1="382.33" x2="379.7" y2="382.33" stroke="#333" stroke-width="1.1"/>
<text x="377.8" y="385.33" font-size="10" text-anchor="end" fill="#000" stroke="#000" stroke-width="0.15">60</text>
<line x1="383.5" y1="347.85" x2="379.7" y2="347.85" stroke="#333" stroke-width="1.1"/>
<text x="377.8" y="350.85" font-size="10" text-anchor="end" fill="#000" stroke="#000" stroke-width="0.15">70</text>
<line x1="383.5" y1="313.38" x2="379.7" y2="313.38" stroke="#333" stroke-width="1.1"/>
<text x="377.8" y="316.38" font-size="10" text-anchor="end" fill="#000" stroke="#000" stroke-width="0.15">80</text>
<line x1="383.5" y1="278.9" x2="379.7" y2="278.9" stroke="#333" stroke-width="1.1"/>
<text x="377.8" y="281.9" font-size="10" text-anchor="end" fill="#000" stroke="#000" stroke-width="0.15">90</text>
<line x1="383.5" y1="244.43" x2="379.7" y2="244.43" stroke="#333" stroke-width="1.1"/>
<text x="377.8" y="247.43" font-size="10" text-anchor="end" fill="#000" stroke="#000" stroke-width="0.15">100</text>
<line x1="383.5" y1="399.56" x2="381.5" y2="399.56" stroke="#333" stroke-width="1.1"/>
<line x1="383.5" y1="365.09" x2="381.5" y2="365.09" stroke="#333" stroke-width="1.1"/>
<line x1="383.5" y1="330.62" x2="381.5" y2="330.62" stroke="#333" stroke-width="1.1"/>
<line x1="383.5" y1="296.14" x2="381.5" y2="296.14" stroke="#333" stroke-width="1.1"/>
<line x1="383.5" y1="261.67" x2="381.5" y2="261.67" stroke="#333" stroke-width="1.1"/>
<line x1="615.47" y1="416.8" x2="619.27" y2="416.8" stroke="#f21c1c" stroke-width="1.1"/>
<text x="621.2" y="419.4" font-size="10" text-anchor="start" fill="#f21c1c" stroke="#f21c1c" stroke-width="0.15">1.2</text>
<line x1="615.47" y1="373.71" x2="619.27" y2="373.71" stroke="#f21c1c" stroke-width="1.1"/>
<text x="621.2" y="376.31" font-size="10" text-anchor="start" fill="#f21c1c" stroke="#f21c1c" stroke-width="0.15">1.4</text>
<line x1="615.47" y1="330.62" x2="619.27" y2="330.62" stroke="#f21c1c" stroke-width="1.1"/>
<text x="621.2" y="333.22" font-size="10" text-anchor="start" fill="#f21c1c" stroke="#f21c1c" stroke-width="0.15">1.6</text>
<line x1="615.47" y1="287.52" x2="619.27" y2="287.52" stroke="#f21c1c" stroke-width="1.1"/>
<text x="621.2" y="290.12" font-size="10" text-anchor="start" fill="#f21c1c" stroke="#f21c1c" stroke-width="0.15">1.8</text>
<line x1="615.47" y1="244.43" x2="619.27" y2="244.43" stroke="#f21c1c" stroke-width="1.1"/>
<text x="621.2" y="247.03" font-size="10" text-anchor="start" fill="#f21c1c" stroke="#f21c1c" stroke-width="0.15">2.0</text>
<line x1="615.47" y1="395.25" x2="617.47" y2="395.25" stroke="#f21c1c" stroke-width="1.1"/>
<line x1="615.47" y1="352.16" x2="617.47" y2="352.16" stroke="#f21c1c" stroke-width="1.1"/>
<line x1="615.47" y1="309.07" x2="617.47" y2="309.07" stroke="#f21c1c" stroke-width="1.1"/>
<line x1="615.47" y1="265.98" x2="617.47" y2="265.98" stroke="#f21c1c" stroke-width="1.1"/>
<line x1="406.7" y1="416.8" x2="406.7" y2="419.8" stroke="#333" stroke-width="1.1"/>
<text x="406.3" y="429.1" font-size="8.6" text-anchor="middle" fill="#000" stroke="#000" stroke-width="0.15" textLength="23.6" lengthAdjust="spacingAndGlyphs">3 wt.%</text>
<text x="406.3" y="439" font-size="8.6" text-anchor="middle" fill="#000" stroke="#000" stroke-width="0.15" textLength="44.0" lengthAdjust="spacingAndGlyphs">IPDI-BNNTs</text>
<line x1="453.09" y1="416.8" x2="453.09" y2="419.8" stroke="#333" stroke-width="1.1"/>
<text x="457.69" y="429.1" font-size="8.6" text-anchor="middle" fill="#000" stroke="#000" stroke-width="0.15" textLength="23.6" lengthAdjust="spacingAndGlyphs">1 wt.%</text>
<text x="457.69" y="439" font-size="8.6" text-anchor="middle" fill="#000" stroke="#000" stroke-width="0.15" textLength="44.0" lengthAdjust="spacingAndGlyphs">IPDI-BNNTs</text>
<line x1="499.49" y1="416.8" x2="499.49" y2="419.8" stroke="#333" stroke-width="1.1"/>
<text x="503.19" y="429.1" font-size="8.6" text-anchor="middle" fill="#000" stroke="#000" stroke-width="0.15" textLength="23.6" lengthAdjust="spacingAndGlyphs">0 wt.%</text>
<text x="503.19" y="439" font-size="8.6" text-anchor="middle" fill="#000" stroke="#000" stroke-width="0.15" textLength="25.9" lengthAdjust="spacingAndGlyphs">BNNTs</text>
<line x1="545.88" y1="416.8" x2="545.88" y2="419.8" stroke="#333" stroke-width="1.1"/>
<text x="547.28" y="429.1" font-size="8.6" text-anchor="middle" fill="#000" stroke="#000" stroke-width="0.15" textLength="23.6" lengthAdjust="spacingAndGlyphs">1 wt.%</text>
<text x="547.28" y="439" font-size="8.6" text-anchor="middle" fill="#000" stroke="#000" stroke-width="0.15" textLength="37.4" lengthAdjust="spacingAndGlyphs">ap-BNNTs</text>
<line x1="592.27" y1="416.8" x2="592.27" y2="419.8" stroke="#333" stroke-width="1.1"/>
<text x="591.47" y="429.1" font-size="8.6" text-anchor="middle" fill="#000" stroke="#000" stroke-width="0.15" textLength="23.6" lengthAdjust="spacingAndGlyphs">3 wt.%</text>
<text x="591.47" y="439" font-size="8.6" text-anchor="middle" fill="#000" stroke="#000" stroke-width="0.15" textLength="37.4" lengthAdjust="spacingAndGlyphs">ap-BNNTs</text>
<polyline points="406.7,261.67 453.09,319.58 499.49,327.17 545.88,385.77 592.27,404.73" fill="none" stroke="#000" stroke-width="1.1"/>
<path d="M406.7,258.01 L410,263.91 L403.4,263.91 Z" fill="#000"/>
<path d="M453.09,315.93 L456.39,321.83 L449.79,321.83 Z" fill="#000"/>
<path d="M499.49,323.51 L502.79,329.41 L496.19,329.41 Z" fill="#000"/>
<path d="M545.88,382.12 L549.18,388.02 L542.58,388.02 Z" fill="#000"/>
<path d="M592.27,401.08 L595.57,406.98 L588.97,406.98 Z" fill="#000"/>
<polyline points="406.7,261.67 453.09,270.29 499.49,324.15 545.88,365.52 592.27,386.85" fill="none" stroke="#f21c1c" stroke-width="1.1"/>
<circle cx="406.7" cy="261.67" r="2.9" fill="#f21c1c"/>
<circle cx="453.09" cy="270.29" r="2.9" fill="#f21c1c"/>
<circle cx="499.49" cy="324.15" r="2.9" fill="#f21c1c"/>
<circle cx="545.88" cy="365.52" r="2.9" fill="#f21c1c"/>
<circle cx="592.27" cy="386.85" r="2.9" fill="#f21c1c"/>
<text x="385.8" y="258.7" font-size="13.8" text-anchor="start" fill="#000" stroke="#000" stroke-width="0.15">(d)</text>
<line x1="496.3" y1="255.1" x2="519.3" y2="255.1" stroke="#000" stroke-width="1.1"/>
<path d="M507.8,251.44 L511.1,257.34 L504.5,257.34 Z" fill="#000"/>
<text x="523.5" y="258.7" font-size="10.4" text-anchor="start" fill="#000" stroke="#000" stroke-width="0.15">Tensile strength</text>
<line x1="496.3" y1="269.9" x2="504.6" y2="269.9" stroke="#f21c1c" stroke-width="1.1"/>
<line x1="512" y1="269.9" x2="519.8" y2="269.9" stroke="#f21c1c" stroke-width="1.1"/>
<circle cx="508.3" cy="269.9" r="2.9" fill="#f21c1c"/>
<text x="523.5" y="273.5" font-size="10.4" text-anchor="start" fill="#000" stroke="#000" stroke-width="0.15">Young's modulus</text>
<text x="0" y="0" font-size="13.6" text-anchor="middle" fill="#000" stroke="#000" stroke-width="0.15" transform="translate(354.1,332.3) rotate(-90)">Tensile strength (MPa)</text>
<text x="0" y="0" font-size="13.6" text-anchor="middle" fill="#f21c1c" stroke="#f21c1c" stroke-width="0.15" transform="translate(644.6,333.7) rotate(90)">Young's modulus (GPa)</text>
</svg>
</body></html>
